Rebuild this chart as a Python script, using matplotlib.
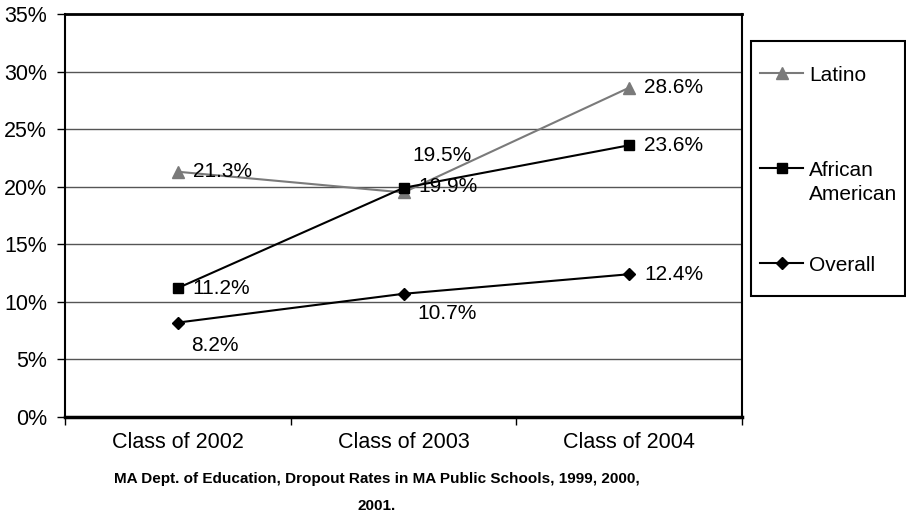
import matplotlib
matplotlib.use("Agg")
import matplotlib.pyplot as plt
from matplotlib.lines import Line2D
from matplotlib.patches import Rectangle

plt.rcParams["font.family"] = ["Liberation Sans", "DejaVu Sans"]

classes = ["Class of 2002", "Class of 2003", "Class of 2004"]
latino = [21.3, 19.5, 28.6]
african_american = [11.2, 19.9, 23.6]
overall = [8.2, 10.7, 12.4]
y_ticks = [0, 5, 10, 15, 20, 25, 30, 35]
source_note = "MA Dept. of Education, Dropout Rates in MA Public Schools, 1999, 2000,\n2001."

GRAY = "#7a7a7a"

# series styling and label offsets (pixels) for each point
series = [
    ("Latino", latino, dict(color=GRAY, marker="^", markersize=8),
     [(15, 0), (9, 37), (15, 0)]),
    ("African\nAmerican", african_american, dict(color="black", marker="s", markersize=7),
     [(15, 0), (15, 1), (15, 0)]),
    ("Overall", overall, dict(color="black", marker="D", markersize=6),
     [(13, -23), (14, -20), (15, 0)]),
]

fig = plt.figure(figsize=(9.06, 5.15), dpi=100)
ax = fig.add_axes([65 / 906, 1 - 417 / 515, (742 - 65) / 906, (417 - 14) / 515])

x = list(range(len(classes)))
for name, values, style, offsets in series:
    ax.plot(x, values, linewidth=1.5, clip_on=False, zorder=3, **style)
    for xi, v, off in zip(x, values, offsets):
        ax.annotate(f"{v:.1f}%", (xi, v), xytext=off, textcoords="offset pixels",
                    ha="left", va="center", fontsize=15, zorder=4)

ax.set_xlim(-0.5, len(classes) - 0.5)
ax.set_ylim(0, 35)
ax.set_yticks(y_ticks)
ax.set_yticklabels([f"{t}%" for t in y_ticks])
for t in y_ticks[1:-1]:
    ax.axhline(t, color="#555555", linewidth=1, zorder=1)

# category labels between boundary ticks
ax.set_xticks([i - 0.5 for i in range(len(classes) + 1)])
ax.set_xticklabels([])
ax.set_xticks(x, minor=True)
ax.set_xticklabels(classes, minor=True, fontsize=15.5)
ax.tick_params(axis="x", which="minor", length=0, pad=11)
ax.tick_params(axis="x", which="major", length=6, width=1, direction="out")
ax.tick_params(axis="y", length=6, width=1, direction="out", pad=7, labelsize=15.5)

for side in ["left", "right"]:
    ax.spines[side].set_linewidth(1.5)
ax.spines["top"].set_linewidth(2)
ax.spines["bottom"].set_linewidth(2.5)

# legend box on the right
W, H = 906, 515
fig.add_artist(Rectangle((751 / W, 1 - 296 / H), 154 / W, (296 - 41) / H,
                         transform=fig.transFigure, fill=False,
                         edgecolor="black", linewidth=1.5))
legend_rows = [73, 168, 263]
for (name, values, style, _), yrow in zip(series, legend_rows):
    fy = 1 - yrow / H
    fig.add_artist(Line2D([760 / W, 803 / W], [fy, fy], transform=fig.transFigure,
                          linewidth=1.5, color=style["color"]))
    fig.add_artist(Line2D([781.5 / W], [fy], transform=fig.transFigure,
                          linestyle="none", **style))
    fig.text(809 / W, fy + 7 / H, name, ha="left", va="top", fontsize=15,
             linespacing=1.3)

fig.text(377 / W, 1 - 472 / H, source_note, ha="center", va="top",
         fontsize=11, fontweight="bold", linespacing=2.15)

fig.savefig("out.png", dpi=100)
